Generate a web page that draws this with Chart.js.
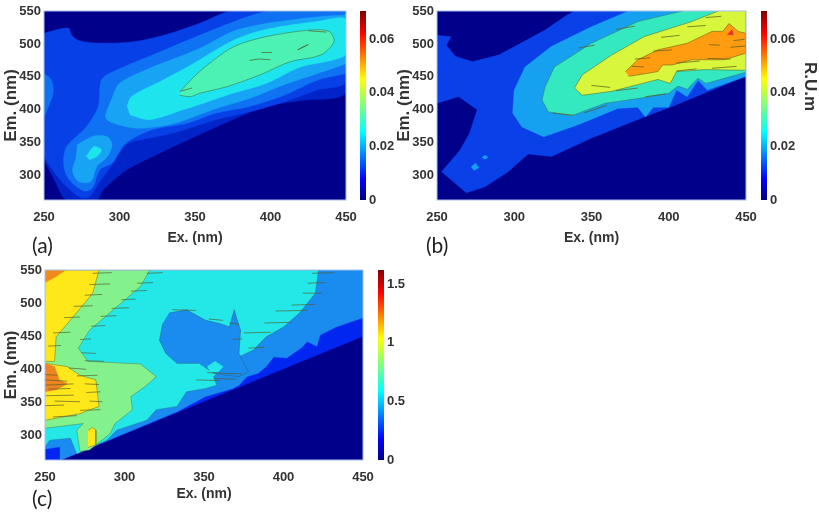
<!DOCTYPE html>
<html>
<head>
<meta charset="utf-8">
<script src="https://cdn.jsdelivr.net/npm/chart.js@4"></script>
<style>
  html, body { margin: 0; padding: 0; background: #fff; width: 819px; height: 512px; overflow: hidden; }
  canvas { position: absolute; filter: blur(0.35px); }
  .tag { position: absolute; font: 21px Lato, sans-serif; color: #222; }
  #rum { position: absolute; left: 800px; top: 62px; writing-mode: vertical-rl; font: bold 17px "Liberation Sans", sans-serif; color: #333; }
</style>
</head>
<body>
<canvas id="plotA"></canvas><canvas id="barA"></canvas>
<canvas id="plotB"></canvas><canvas id="barB"></canvas>
<canvas id="plotC"></canvas><canvas id="barC"></canvas>
<div class="tag" style="left:32px;top:232px">(a)</div>
<div class="tag" style="left:426px;top:232px">(b)</div>
<div class="tag" style="left:32px;top:485px">(c)</div>
<div id="rum">R.U.m</div>
<script>
// axis values
const exTicks = [250, 300, 350, 400, 450];
const emTicks = [300, 350, 400, 450, 500, 550];
const emMin = 263;
const barTicksAB = [0, 0.02, 0.04, 0.06];
const barTicksC = [0, 0.5, 1, 1.5];
const barMaxAB = 0.0705;
const barMaxC = 1.62;

// contour regions, [ex, em]
// panel (a)
const a1 = [[250,516],[266,524],[268,514],[273,505],[287,501],[309,503],[331,514],[353,531],[375,550],[450,550],[450,427],[420,414],[397,405],[364,374],[331,339],[305,309],[289,278],[285,263],[265,263],[257,293],[250,324]];
const a2 = [[250,516],[266,524],[268,514],[273,505],[287,501],[309,503],[331,514],[353,531],[375,550],[450,550],[450,443],[431,430],[409,412],[386,397],[364,385],[336,365],[322,358],[305,348],[296,319],[287,291],[280,268],[274,267],[263,288],[254,314],[250,329]];
const a3 = [[450,550],[400,550],[382,539],[353,513],[327,488],[296,458],[288,445],[286,405],[278,374],[265,344],[263,319],[266,296],[276,277],[282,281],[287,309],[295,319],[304,349],[322,370],[344,379],[364,395],[386,405],[409,422],[431,445],[450,455]];
const a3Side = [[250,455],[255,445],[256,425],[253,405],[250,389]];
const a4 = [[450,544],[431,541],[397,531],[375,519],[353,493],[320,463],[300,440],[295,417],[291,387],[303,375],[316,372],[336,379],[364,402],[386,417],[409,438],[431,455],[450,470]];
const a4Lobe = [[272,347],[283,360],[292,359],[295,347],[292,329],[285,314],[281,291],[273,291],[269,306],[271,326]];
const a5 = [[305,405],[308,420],[327,443],[345,465],[375,505],[397,522],[431,534],[450,537],[450,485],[442,476],[420,465],[397,440],[375,425],[353,408],[342,400],[320,385],[307,392]];
const a5Lobe = [[278,329],[283,344],[288,339],[285,329],[280,324]];
const a6 = [[341,430],[353,458],[375,495],[397,511],[426,521],[439,519],[442,503],[433,483],[413,473],[393,453],[371,435],[353,425],[347,420],[340,422]];
const aStreaks = [[386,475],[392,477],[400,476],null,[394,487],[401,487],null,[418,491],[421,495],[425,499],[420,493],[418,491],null,[340,428],[348,433],null,[425,520],[437,518]];

// panel (b)
const b1 = [[250,513],[259,511],[256,498],[262,481],[273,473],[290,483],[320,521],[333,542],[339,550],[450,550],[450,451],[428,430],[402,405],[384,389],[350,357],[324,329],[309,333],[296,306],[281,283],[269,274],[253,306],[265,339],[271,364],[276,400],[264,420],[250,410]];
const b2 = [[374,550],[350,526],[324,496],[307,465],[300,430],[299,395],[305,374],[319,359],[341,377],[367,402],[380,404],[385,389],[390,404],[400,404],[405,430],[412,420],[419,445],[425,430],[450,451],[450,550]];
const b2Dot1 = [[272,313],[275,319],[277,312],[274,308]];
const b2Dot2 = [[279,327],[281,331],[283,328],[281,325]];
const b3 = [[409,550],[380,534],[350,501],[326,465],[320,435],[318,415],[322,397],[337,391],[359,410],[380,417],[400,425],[406,436],[412,431],[419,448],[424,440],[450,457],[450,550]];
const b4 = [[432,550],[415,534],[384,511],[363,483],[344,453],[339,433],[344,422],[363,428],[393,446],[401,440],[405,458],[423,461],[450,460],[450,550]];
const b5 = [[372,458],[380,476],[393,491],[412,501],[428,519],[435,519],[439,531],[445,519],[450,516],[450,486],[436,476],[415,476],[402,468],[396,468],[393,458],[380,453],[374,451]];
const b6 = [[441,522],[438,514],[442,514]];
const bStreaks = [[426,499],[433,498],null,[378,477],[388,479],null,[376,466],[384,465],null,[390,489],[402,491],null,[405,471],[420,474],null,[425,478],[440,477],null,[395,510],[407,513],null,[412,526],[424,528],null,[424,540],[434,542],null,[350,437],[362,434],null,[366,429],[380,433],null,[405,459],[418,462],null,[428,463],[444,466],null,[342,494],[352,498],null,[366,522],[378,527],null,[325,395],[338,392],null,[345,395],[360,407],null,[385,420],[398,424],null,[440,495],[450,497],null,[442,505],[449,507]];

// panel (c)
const c1 = [[250,550],[450,550],[450,450],[260,263],[250,263]];
const c2 = [[250,550],[450,550],[450,478],[433,464],[423,452],[421,435],[415,442],[411,432],[406,424],[402,417],[394,419],[389,404],[384,394],[377,389],[372,376],[368,371],[351,359],[333,336],[320,323],[260,263],[250,263]];
const c3 = [[250,550],[422,550],[420,515],[410,485],[400,464],[389,449],[381,429],[372,419],[356,389],[358,376],[351,371],[339,366],[333,344],[320,339],[314,323],[295,308],[289,293],[270,272],[266,296],[253,293],[250,283]];
const c2Blob = [[328,485],[339,490],[351,474],[360,469],[366,464],[369,490],[371,474],[373,459],[372,424],[378,396],[372,389],[364,391],[356,394],[347,409],[333,409],[326,424],[322,444],[324,469]];
const c3Isle = [[352,404],[357,412],[362,404],[359,396],[354,396]];
const c4 = [[250,550],[316,550],[310,525],[293,490],[278,459],[271,432],[277,412],[310,408],[320,389],[313,374],[304,359],[305,339],[294,318],[291,303],[278,278],[272,276],[270,308],[274,318],[250,311]];
const c5Top = [[250,550],[284,550],[280,515],[268,480],[257,449],[256,412],[250,412]];
const c5Low = [[250,409],[264,404],[272,391],[282,384],[284,344],[272,333],[250,323]];
const c5Tip = [[277,308],[280,312],[282,308],[282,286],[277,282]];
const c6Top = [[250,550],[263,550],[257,540],[250,531]];
const c6Low = [[250,409],[256,404],[259,384],[264,378],[257,369],[250,366]];
const c1Corner = [[250,279],[259,282],[259,263],[250,263]];
const cStreaks = [[250,392],[258,391],null,[250,384],[264,382],null,[250,376],[268,378],null,[252,370],[266,371],null,[250,360],[268,361],null,[256,352],[272,351],null,[250,345],[262,346],null,[314,545],[324,546],null,[308,530],[318,531],null,[304,518],[314,519],null,[298,505],[307,506],null,[292,492],[303,493],null,[285,480],[295,481],null,[279,465],[288,466],null,[272,445],[279,446],null,[273,425],[282,424],null,[275,413],[287,412],null,[280,545],[292,546],null,[278,528],[291,529],null,[275,512],[286,513],null,[268,495],[280,496],null,[262,478],[272,479],null,[255,455],[266,456],null,[252,435],[260,436],null,[265,402],[276,400],null,[270,390],[283,391],null,[275,378],[284,377],null,[276,365],[285,366],null,[278,352],[286,351],null,[272,338],[285,339],null,[255,328],[270,330],null,[418,545],[432,546],null,[415,530],[426,531],null,[412,515],[424,515],null,[405,497],[420,498],null,[395,488],[415,489],null,[388,470],[405,471],null,[375,455],[392,456],null,[378,432],[388,433],null,[330,490],[345,489],null,[353,476],[362,474],null,[366,470],[372,468],null,[368,445],[374,446],null,[352,395],[374,393],null,[356,386],[370,385],null,[345,384],[360,383]];

const jetStops = [[0,'#00007f'],[0.11,'#0000ff'],[0.36,'#00ffff'],[0.5,'#7fff7f'],[0.64,'#ffff00'],[0.88,'#ff0000'],[1,'#7f0000']];
const navy = '#00008a';
const textColor = '#333';
const fontTick = { family: '"Liberation Sans", sans-serif', size: 13, weight: 'bold' };
const fontEx = { family: '"Liberation Sans", sans-serif', size: 14, weight: 'bold' };

// the axes must not push the plot area in, it has a fixed place on the page
function noScalePadding(s) {
  s.paddingTop = s.paddingBottom = s.paddingLeft = s.paddingRight = 0;
}

// background and thin frame of the map
const mapFrame = {
  id: 'mapFrame',
  beforeDatasetsDraw(chart) {
    const { ctx, chartArea: a } = chart;
    ctx.save();
    ctx.fillStyle = navy;
    ctx.fillRect(a.left, a.top, a.width, a.height);
    ctx.restore();
  },
  afterDraw(chart) {
    const { ctx, chartArea: a } = chart;
    ctx.save();
    ctx.strokeStyle = '#a9bfe8';
    ctx.lineWidth = 1;
    ctx.strokeRect(a.left, a.top, a.width, a.height);
    ctx.restore();
  }
};

function area(points, color, edge, smooth) {
  return {
    data: points.map(p => ({ x: p[0], y: p[1] })),
    showLine: true,
    fill: 'shape',
    backgroundColor: color,
    borderColor: edge || color,
    borderWidth: edge ? 0.8 : 0.5,
    pointRadius: 0,
    tension: smooth || 0
  };
}

function streaks(points, color) {
  return {
    data: points.map(p => p ? { x: p[0], y: p[1] } : { x: NaN, y: NaN }),
    showLine: true,
    fill: false,
    borderColor: color,
    borderWidth: 1,
    pointRadius: 0,
    tension: 0
  };
}

function drawMap(id, left, top, plotW, plotH, bottomMargin, emSize, layers) {
  const canvas = document.getElementById(id);
  canvas.width = 44 + plotW + 24;
  canvas.height = 12 + plotH + bottomMargin;
  canvas.style.left = left + 'px';
  canvas.style.top = (top - 12) + 'px';
  new Chart(canvas, {
    type: 'scatter',
    // the first dataset is painted last, so the lowest level goes at the end
    data: { datasets: layers.slice().reverse() },
    plugins: [mapFrame],
    options: {
      responsive: false,
      animation: false,
      layout: { autoPadding: false, padding: { top: 12, right: 24 } },
      plugins: { legend: { display: false }, tooltip: { enabled: false } },
      scales: {
        x: {
          type: 'linear', min: 250, max: 450,
          grid: { display: false, drawTicks: false }, border: { display: false },
          afterBuildTicks: s => { s.ticks = exTicks.map(v => ({ value: v })); },
          afterFit: s => { s.height = bottomMargin; noScalePadding(s); },
          ticks: { color: textColor, font: fontTick, padding: 10, maxRotation: 0 },
          title: { display: true, text: 'Ex. (nm)', color: textColor, font: fontEx, padding: { top: 0, bottom: 1 } }
        },
        y: {
          type: 'linear', min: emMin, max: 550,
          grid: { display: false, drawTicks: false }, border: { display: false },
          afterBuildTicks: s => { s.ticks = emTicks.map(v => ({ value: v })); },
          afterFit: s => { s.width = 44; noScalePadding(s); },
          ticks: { color: textColor, font: fontTick, padding: 3 },
          title: {
            display: true, text: 'Em. (nm)', color: textColor,
            font: { family: fontTick.family, size: emSize, weight: 'bold' },
            padding: { top: 1, bottom: 0 }
          }
        }
      }
    }
  });
}

function drawBar(id, left, top, plotH, maxVal, tickVals) {
  const canvas = document.getElementById(id);
  canvas.width = 6 + 36;
  canvas.height = plotH + 16;
  canvas.style.left = left + 'px';
  canvas.style.top = (top - 8) + 'px';
  new Chart(canvas, {
    type: 'bar',
    data: {
      labels: [''],
      datasets: [{
        data: [[0, maxVal]],
        barPercentage: 1,
        categoryPercentage: 1,
        borderWidth: 0,
        backgroundColor: c => {
          const { ctx, chartArea: a } = c.chart;
          if (!a) return navy;
          const g = ctx.createLinearGradient(0, a.bottom, 0, a.top);
          jetStops.forEach(s => g.addColorStop(s[0], s[1]));
          return g;
        }
      }]
    },
    options: {
      responsive: false,
      animation: false,
      layout: { autoPadding: false, padding: { top: 8, bottom: 8 } },
      plugins: { legend: { display: false }, tooltip: { enabled: false } },
      scales: {
        x: { display: false },
        y: {
          position: 'right', min: 0, max: maxVal,
          grid: { display: false, drawTicks: false }, border: { display: false },
          afterBuildTicks: s => { s.ticks = tickVals.map(v => ({ value: v })); },
          afterFit: s => { s.width = 36; noScalePadding(s); },
          ticks: { color: textColor, font: fontTick, padding: 3, callback: v => String(v) }
        }
      }
    }
  });
}

drawMap('plotA', 0, 11, 302, 189, 48, 17, [
  area(a1, '#0024c8', null, 0.3), area(a2, '#0840e8', null, 0.3), area(a3, '#0e72f2', null, 0.3), area(a3Side, '#0e72f2', null, 0.3),
  area(a4, '#18a4f4', null, 0.3), area(a4Lobe, '#18a4f4', null, 0.3), area(a5, '#1ee4ee', null, 0.3), area(a5Lobe, '#1ee4ee', null, 0.3),
  area(a6, '#4cf2b4', 'rgba(60,110,70,0.7)', 0.3), streaks(aStreaks, 'rgba(80,110,60,0.8)')
]);
drawMap('plotB', 393, 11, 309, 189, 48, 17, [
  area(b1, '#0a40e8'), area(b2, '#16a0f0'), area(b2Dot1, '#16a0f0'), area(b2Dot2, '#16a0f0'),
  area(b3, '#34e8c0', 'rgba(50,110,80,0.55)'), area(b4, '#d8f63c', 'rgba(90,110,40,0.7)'),
  area(b5, '#ff9c10', 'rgba(110,90,20,0.7)'), area(b6, '#e83020'), streaks(bStreaks, 'rgba(90,90,30,0.7)')
]);
drawMap('plotC', 1, 270, 318, 190, 44, 16, [
  area(c1, '#0026f0'), area(c2, '#1a8cf0'), area(c3, '#24e8e8', 'rgba(40,100,110,0.45)'),
  area(c2Blob, '#1a8cf0', 'rgba(40,90,110,0.55)'), area(c3Isle, '#24e8e8'),
  area(c4, '#84f28c', 'rgba(70,110,60,0.55)'), area(c5Top, '#ffe81a', 'rgba(110,100,30,0.6)'),
  area(c5Low, '#ffe81a', 'rgba(110,100,30,0.6)'), area(c5Tip, '#ffe81a', 'rgba(110,100,30,0.6)'),
  area(c6Top, '#f08a1a'), area(c6Low, '#ee8420'), area(c1Corner, '#0026f0'), streaks(cStreaks, 'rgba(80,90,40,0.65)')
]);
drawBar('barA', 360, 11, 189, barMaxAB, barTicksAB);
drawBar('barB', 761, 11, 189, barMaxAB, barTicksAB);
drawBar('barC', 378, 270, 190, barMaxC, barTicksC);
</script>
</body>
</html>
